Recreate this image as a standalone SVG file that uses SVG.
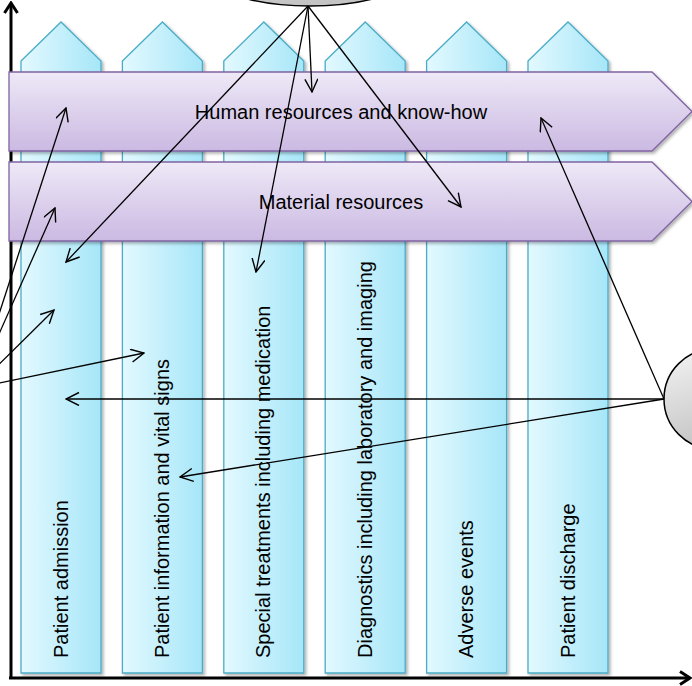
<svg xmlns="http://www.w3.org/2000/svg" width="692" height="686" viewBox="0 0 692 686">
<defs>
<linearGradient id="colGrad" x1="0" y1="0" x2="1" y2="0">
<stop offset="0" stop-color="#e3f9ff"/>
<stop offset="1" stop-color="#a6e6f8"/>
</linearGradient>
<linearGradient id="bandGrad" x1="0" y1="0" x2="0" y2="1">
<stop offset="0" stop-color="#eee9f7"/>
<stop offset="1" stop-color="#cbb9e2"/>
</linearGradient>
<linearGradient id="ellGrad" x1="0" y1="0" x2="0.3" y2="1">
<stop offset="0" stop-color="#f4f4f4"/>
<stop offset="1" stop-color="#c4c4c4"/>
</linearGradient>
<filter id="shadow" x="-10%" y="-10%" width="130%" height="130%">
<feDropShadow dx="2" dy="2" stdDeviation="1.5" flood-color="#000" flood-opacity="0.3"/>
</filter>
<marker id="arrow" viewBox="0 0 15 15" refX="13.5" refY="7" markerWidth="15" markerHeight="15" markerUnits="userSpaceOnUse" orient="auto">
<path d="M0.5,0.5 L13.5,7 L0.5,13.5" fill="none" stroke="#000" stroke-width="1.4"/>
</marker>
<marker id="axisArrow" viewBox="0 0 14 16" refX="12" refY="8" markerWidth="14" markerHeight="16" markerUnits="userSpaceOnUse" orient="auto">
<path d="M2,1.5 L12,8 L2,14.5" fill="none" stroke="#000" stroke-width="3"/>
</marker>
<path id="colShape" d="M0,39 L40,0 L80,39 L80,651 L0,651 Z"/>
</defs>
<style>
.col { fill: url(#colGrad); stroke: #4bacc6; stroke-width: 1.3; filter: url(#shadow); }
.band { fill: url(#bandGrad); stroke: #8064a2; stroke-width: 1.3; filter: url(#shadow); }
.ctext { font-family: "Liberation Sans", Arial, sans-serif; font-size: 20px; fill: #000; }
.btext { font-family: "Liberation Sans", Arial, sans-serif; font-size: 20px; fill: #000; text-anchor: middle; }
.axis { stroke: #000; stroke-width: 3; fill: none; marker-end: url(#axisArrow); }
.conn { stroke: #000; stroke-width: 1.3; fill: none; marker-end: url(#arrow); }
.ell { fill: url(#ellGrad); stroke: #000; stroke-width: 1.5; }
</style>

<g id="axes">
<line class="axis" x1="11" y1="679" x2="11" y2="3"/>
<line class="axis" x1="9" y1="678" x2="690" y2="678"/>
</g>

<g id="col-admission">
<use href="#colShape" class="col" transform="translate(21,22)"/>
<text class="ctext" transform="translate(67.5,658) rotate(-90)">Patient admission</text>
</g>
<g id="col-information">
<use href="#colShape" class="col" transform="translate(122.4,22)"/>
<text class="ctext" transform="translate(168.9,658) rotate(-90)">Patient information and vital signs</text>
</g>
<g id="col-treatments">
<use href="#colShape" class="col" transform="translate(223.8,22)"/>
<text class="ctext" transform="translate(270.3,658) rotate(-90)">Special treatments including medication</text>
</g>
<g id="col-diagnostics">
<use href="#colShape" class="col" transform="translate(325.2,22)"/>
<text class="ctext" transform="translate(371.7,658) rotate(-90)">Diagnostics including laboratory and imaging</text>
</g>
<g id="col-adverse">
<use href="#colShape" class="col" transform="translate(426.6,22)"/>
<text class="ctext" transform="translate(473.1,658) rotate(-90)">Adverse events</text>
</g>
<g id="col-discharge">
<use href="#colShape" class="col" transform="translate(528,22)"/>
<text class="ctext" transform="translate(574.5,658) rotate(-90)">Patient discharge</text>
</g>

<g id="band-human">
<path class="band" d="M9,72 L652,72 L692,111.5 L652,151 L9,151 Z"/>
<text class="btext" x="341" y="119">Human resources and know-how</text>
</g>
<g id="band-material">
<path class="band" d="M9,162 L652,162 L692,201.5 L652,241 L9,241 Z"/>
<text class="btext" x="341" y="208.5">Material resources</text>
</g>

<g id="node-top">
<ellipse class="ell" cx="310" cy="-34" rx="110" ry="40"/>
</g>
<g id="node-right">
<ellipse class="ell" cx="714" cy="399" rx="50" ry="50"/>
</g>

<g id="connectors">
<line class="conn" x1="308" y1="6" x2="312" y2="92"/>
<line class="conn" x1="308" y1="6" x2="66" y2="262"/>
<line class="conn" x1="308" y1="6" x2="256" y2="272"/>
<line class="conn" x1="308" y1="6" x2="461" y2="207"/>
<line class="conn" x1="664" y1="399" x2="66" y2="399"/>
<line class="conn" x1="664" y1="399" x2="180" y2="477"/>
<line class="conn" x1="664" y1="399" x2="541" y2="118"/>
<line class="conn" x1="-25" y1="388" x2="66" y2="108"/>
<line class="conn" x1="-25" y1="388" x2="55" y2="208"/>
<line class="conn" x1="-25" y1="388" x2="54" y2="310"/>
<line class="conn" x1="-25" y1="388" x2="144" y2="353"/>
</g>
</svg>
